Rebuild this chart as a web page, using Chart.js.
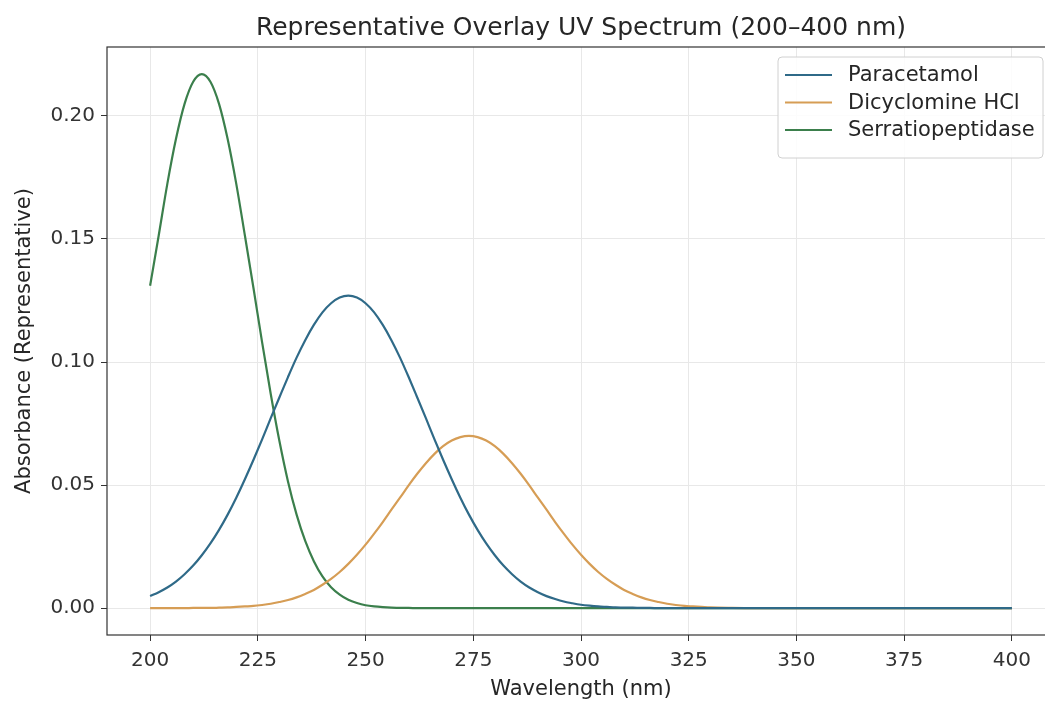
<!DOCTYPE html>
<html>
<head>
<meta charset="utf-8">
<script src="https://cdn.jsdelivr.net/npm/chart.js@4/dist/chart.umd.min.js"></script>
<style>
  html, body { margin: 0; padding: 0; background: #fff; overflow: hidden; }
  #wrap { width: 1056px; height: 702px; }
</style>
</head>
<body>
<div id="wrap"><canvas id="uv" width="1056" height="702"></canvas></div>
<script>
// wavelength grid (nm)
const wavelengths = [
  200, 202, 204, 206, 208, 210, 212, 214, 216, 218, 220, 222, 224, 226, 228,
  230, 232, 234, 236, 238, 240, 242, 244, 246, 248, 250, 252, 254, 256, 258,
  260, 262, 264, 266, 268, 270, 272, 274, 276, 278, 280, 282, 284, 286, 288,
  290, 292, 294, 296, 298, 300, 302, 304, 306, 308, 310, 312, 314, 316, 318,
  320, 322, 324, 326, 328, 330, 335, 340, 350, 360, 370, 380, 390, 400,
];
const paracetamol = [
  0.0049, 0.0065, 0.0084, 0.0108, 0.0138, 0.0173, 0.0215, 0.0263, 0.0318, 0.038, 0.0449, 0.0524, 0.0603, 0.0686, 0.0772,
  0.0856, 0.0939, 0.1018, 0.1089, 0.1151, 0.1202, 0.1239, 0.1262, 0.127, 0.1262, 0.1239, 0.1202, 0.1151, 0.1089, 0.1018,
  0.0939, 0.0856, 0.0772, 0.0686, 0.0603, 0.0524, 0.0449, 0.038, 0.0318, 0.0263, 0.0215, 0.0173, 0.0138, 0.0108, 0.0084,
  0.0065, 0.0049, 0.0037, 0.0027, 0.002, 0.0014, 0.001, 0.0007, 0.0005, 0.0003, 0.0002, 0.0002, 0.0001, 0.0001, 0,
  0, 0, 0, 0, 0, 0, 0, 0, 0, 0, 0, 0, 0, 0,
];
const dicyclomine = [
  0, 0, 0, 0, 0, 0.0001, 0.0001, 0.0001, 0.0002, 0.0003, 0.0005, 0.0007, 0.0009, 0.0013, 0.0018,
  0.0025, 0.0033, 0.0044, 0.0058, 0.0074, 0.0095, 0.0119, 0.0147, 0.018, 0.0217, 0.0258, 0.0303, 0.035, 0.04, 0.0449,
  0.0499, 0.0546, 0.0589, 0.0627, 0.0658, 0.0681, 0.0695, 0.07, 0.0695, 0.0681, 0.0658, 0.0627, 0.0589, 0.0546, 0.0499,
  0.0449, 0.04, 0.035, 0.0303, 0.0258, 0.0217, 0.018, 0.0147, 0.0119, 0.0095, 0.0074, 0.0058, 0.0044, 0.0033, 0.0025,
  0.0018, 0.0013, 0.0009, 0.0007, 0.0005, 0.0003, 0.0001, 0, 0, 0, 0, 0, 0, 0,
];
const serratiopeptidase = [
  0.131, 0.1514, 0.1724, 0.1906, 0.2049, 0.2139, 0.217, 0.2139, 0.2049, 0.1906, 0.1724, 0.1514, 0.13, 0.108, 0.087,
  0.068, 0.0515, 0.038, 0.0273, 0.0191, 0.0129, 0.0085, 0.0055, 0.0034, 0.0021, 0.0012, 0.0007, 0.0004, 0.0002, 0.0001,
  0.0001, 0, 0, 0, 0, 0, 0, 0, 0, 0, 0, 0, 0, 0, 0,
  0, 0, 0, 0, 0, 0, 0, 0, 0, 0, 0, 0, 0, 0, 0,
  0, 0, 0, 0, 0, 0, 0, 0, 0, 0, 0, 0, 0, 0,
];
const seriesNames = ["Paracetamol", "Dicyclomine HCl", "Serratiopeptidase"];
const seriesColors = ["#2f6a88", "#d69d55", "#3b7f4c"];
const xTicks = [200, 225, 250, 275, 300, 325, 350, 375, 400];
const yTicks = [0, 0.05, 0.1, 0.15, 0.2];
const chartTitle = "Representative Overlay UV Spectrum (200–400 nm)";

const FONT = "'DejaVu Sans', sans-serif";
const toPoints = (ys) => ys.map((y, i) => ({ x: wavelengths[i], y: y }));

// frame round the plot area (matplotlib spines)
const framePlugin = {
  id: "frame",
  afterDatasetsDraw(chart) {
    const a = chart.chartArea;
    const c = chart.ctx;
    c.save();
    c.strokeStyle = "#333";
    c.lineWidth = 1.2;
    c.strokeRect(a.left, a.top, a.right - a.left, a.bottom - a.top);
    c.restore();
  },
};

// legend box in the upper right corner, inside the axes
const legendPlugin = {
  id: "innerLegend",
  afterDraw(chart) {
    const c = chart.ctx;
    const a = chart.chartArea;
    const boxR = a.right - 12;
    const boxL = boxR - 265;
    const boxT = a.top + 10;
    const boxB = boxT + 101;
    c.save();
    c.fillStyle = "rgba(255,255,255,0.85)";
    c.strokeStyle = "#d0d0d0";
    c.lineWidth = 1;
    c.beginPath();
    c.roundRect(boxL, boxT, boxR - boxL, boxB - boxT, 4);
    c.fill();
    c.stroke();
    c.font = "21px " + FONT;
    c.textBaseline = "middle";
    c.fillStyle = "#262626";
    chart.data.datasets.forEach((ds, i) => {
      const y = boxT + 18 + i * 27.5;
      c.strokeStyle = ds.borderColor;
      c.lineWidth = 2;
      c.beginPath();
      c.moveTo(boxL + 7, y);
      c.lineTo(boxL + 54, y);
      c.stroke();
      c.fillText(ds.label, boxL + 70, y + 1);
    });
    c.restore();
  },
};

const ctx = document.getElementById("uv").getContext("2d");
new Chart(ctx, {
  type: "line",
  data: {
    datasets: [paracetamol, dicyclomine, serratiopeptidase].map((ys, i) => ({
      label: seriesNames[i],
      data: toPoints(ys),
      borderColor: seriesColors[i],
      backgroundColor: seriesColors[i],
      borderWidth: 2.2,
      pointRadius: 0,
      cubicInterpolationMode: "monotone",
      fill: false,
    })),
  },
  options: {
    responsive: false,
    animation: false,
    layout: { padding: { left: 0, right: 1, top: 0, bottom: 0 } },
    plugins: {
      legend: { display: false },
      tooltip: { enabled: false },
      title: { display: false },
    },
    scales: {
      x: {
        type: "linear",
        min: 190,
        max: 410,
        afterBuildTicks: (scale) => {
          scale.ticks = xTicks.map((v) => ({ value: v }));
        },
        afterFit: (scale) => {
          scale.height = 67;
        },
        ticks: {
          color: "#333",
          font: { family: FONT, size: 20 },
          padding: 8,
          maxRotation: 0,
          callback: (v) => String(v),
        },
        grid: {
          color: "#e8e8e8",
          tickColor: "#333",
          tickLength: 6,
        },
        border: { display: false },
        title: {
          display: true,
          text: "Wavelength (nm)",
          color: "#262626",
          font: { family: FONT, size: 21 },
          padding: { top: 0, bottom: 0 },
        },
      },
      // top axis only carries the title, so it is centred over the axes
      top: {
        type: "linear",
        position: "top",
        min: 190,
        max: 410,
        afterFit: (scale) => {
          scale.height = 47;
        },
        ticks: { display: false },
        grid: { display: false, drawTicks: false },
        border: { display: false },
        title: {
          display: true,
          text: chartTitle,
          color: "#262626",
          font: { family: FONT, size: 25 },
          padding: { top: 13, bottom: 0 },
        },
      },
      y: {
        type: "linear",
        min: -0.0109,
        max: 0.228,
        afterBuildTicks: (scale) => {
          scale.ticks = yTicks.map((v) => ({ value: v }));
        },
        afterFit: (scale) => {
          scale.width = 107;
        },
        ticks: {
          color: "#333",
          font: { family: FONT, size: 20 },
          padding: 6,
          callback: (v) => v.toFixed(2),
        },
        grid: {
          color: "#e8e8e8",
          tickColor: "#333",
          tickLength: 6,
        },
        border: { display: false },
        title: {
          display: true,
          text: "Absorbance (Representative)",
          color: "#262626",
          font: { family: FONT, size: 21 },
          padding: { top: 12, bottom: 0 },
        },
      },
    },
  },
  plugins: [framePlugin, legendPlugin],
});
</script>
</body>
</html>
